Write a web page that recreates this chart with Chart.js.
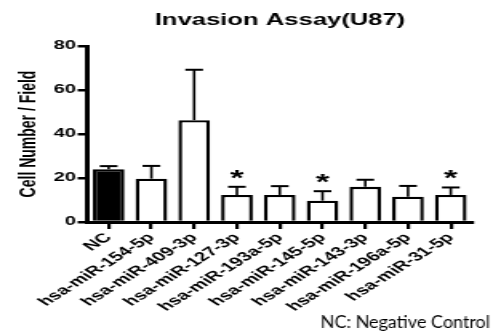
<!DOCTYPE html>
<html>
<head>
<meta charset="utf-8">
<script src="https://cdn.jsdelivr.net/npm/chart.js@4"></script>
<style>
    html, body { margin: 0; padding: 0; background: #fff; }
    #wrap { width: 493px; height: 333px; position: relative; overflow: hidden; }
</style>
</head>
<body>
<div id="wrap">
    <!-- исходная картинка растянута по горизонтали, поэтому рисуем в узком канвасе и растягиваем -->
    <canvas id="invasion-chart" width="308" height="333" style="width:493px;height:333px;display:block;"></canvas>
</div>
<script>
// данные
const categories = ['NC', 'hsa-miR-154-5p', 'hsa-miR-409-3p', 'hsa-miR-127-3p', 'hsa-miR-193a-5p',
    'hsa-miR-145-5p', 'hsa-miR-143-3p', 'hsa-miR-196a-5p', 'hsa-miR-31-5p'];
const means = [24, 19.7, 46.3, 12.3, 12.3, 9.7, 16, 11.5, 12.3];
const errors = [1.4, 5.8, 22.9, 3.7, 4, 4.3, 3.2, 4.9, 3.4];
const significant = [false, false, false, true, false, true, false, false, true];
const fills = ['#000', '#fff', '#fff', '#fff', '#fff', '#fff', '#fff', '#fff', '#fff'];

const stretch = 493 / 308;
const fontMain = '"Liberation Sans", Arial, sans-serif';

// планки погрешностей (только вверх) и звёздочки
const errorBarsPlugin = {
    id: 'errorBars',
    afterDatasetsDraw(chart) {
        const ctx = chart.ctx;
        const yScale = chart.scales.y;
        const meta = chart.getDatasetMeta(0);
        ctx.save();
        ctx.strokeStyle = '#000';
        meta.data.forEach((bar, i) => {
            const yTop = yScale.getPixelForValue(means[i] + errors[i]);
            const yBar = yScale.getPixelForValue(means[i]);
            const half = bar.width * 0.28;
            ctx.beginPath();
            ctx.lineWidth = 1.6;
            ctx.moveTo(bar.x, yBar);
            ctx.lineTo(bar.x, yTop);
            ctx.stroke();
            ctx.beginPath();
            ctx.lineWidth = 2;
            ctx.moveTo(bar.x - half, yTop);
            ctx.lineTo(bar.x + half, yTop);
            ctx.stroke();
            if (significant[i]) {
                ctx.fillStyle = '#000';
                ctx.font = 'bold 22px ' + fontMain;
                ctx.textAlign = 'center';
                ctx.textBaseline = 'alphabetic';
                ctx.fillText('*', bar.x, yTop - 2);
            }
        });
        ctx.restore();
    }
};

// заголовок и примечание
const textPlugin = {
    id: 'texts',
    afterDraw(chart) {
        const ctx = chart.ctx;
        ctx.save();
        ctx.fillStyle = '#000';
        ctx.textBaseline = 'middle';
        ctx.textAlign = 'center';
        ctx.font = 'bold 16px ' + fontMain;
        ctx.fillText('Invasion Assay(U87)', 280 / stretch, 20.5);
        ctx.restore();

        // примечание не растянуто — компенсируем
        ctx.save();
        ctx.translate(490 / stretch, 0);
        ctx.scale(1 / stretch, 1);
        ctx.fillStyle = '#000';
        ctx.textAlign = 'right';
        ctx.textBaseline = 'alphabetic';
        ctx.font = '18px Lato, "Open Sans", sans-serif';
        ctx.fillText('NC: Negative Control', 0, 328);
        ctx.restore();
    }
};

new Chart(document.getElementById('invasion-chart'), {
    type: 'bar',
    data: {
        labels: categories,
        datasets: [{
            data: means,
            backgroundColor: fills,
            borderColor: '#000',
            borderWidth: 2.4,
            categoryPercentage: 1,
            barPercentage: 0.74
        }]
    },
    options: {
        responsive: false,
        animation: false,
        devicePixelRatio: 1,
        layout: { padding: { left: 0, right: 13, top: 46, bottom: 0 } },
        plugins: {
            legend: { display: false },
            title: { display: false },
            tooltip: { enabled: false }
        },
        scales: {
            x: {
                afterFit(scale) { scale.height = 111; },
                border: { color: '#000', width: 3 },
                grid: { offset: false, drawOnChartArea: false, drawTicks: true, tickLength: 7, color: '#000', lineWidth: 2.2 },
                ticks: {
                    color: '#000',
                    font: { family: fontMain, weight: 'bold', size: 13 },
                    minRotation: 45, maxRotation: 45,
                    autoSkip: false, padding: 1
                }
            },
            y: {
                min: 0, max: 80,
                afterFit(scale) { scale.width = 54.5; },
                border: { color: '#000', width: 3 },
                grid: { drawOnChartArea: false, drawTicks: true, tickLength: 6, color: '#000', lineWidth: 2.5 },
                ticks: {
                    stepSize: 20, color: '#000', padding: 1,
                    font: { family: fontMain, weight: 'bold', size: 12.5 }
                },
                title: {
                    display: true, text: 'Cell Number / Field', color: '#000',
                    font: { family: fontMain, weight: 'bold', size: 14 },
                    padding: { top: 10, bottom: 0 }
                }
            }
        }
    },
    plugins: [errorBarsPlugin, textPlugin]
});
</script>
</body>
</html>
